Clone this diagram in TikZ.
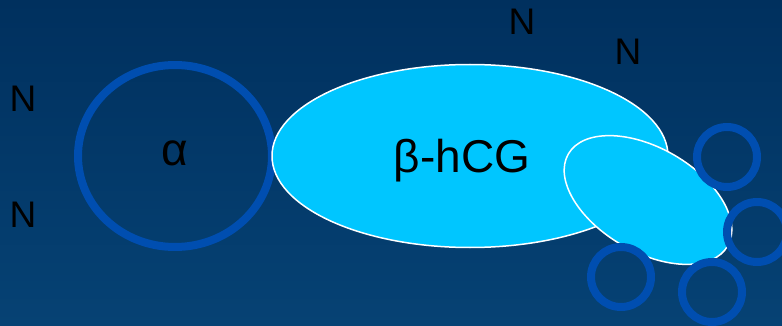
\documentclass[tikz,border=0pt]{standalone}
\usepackage{fontspec}
\setmainfont{Liberation Sans}
\usetikzlibrary{shapes.geometric}
\definecolor{bgtop}{RGB}{0,48,94}
\definecolor{bgbottom}{RGB}{6,66,116}
\definecolor{ringblue}{RGB}{0,78,176}
\definecolor{chaincyan}{RGB}{0,198,255}
\tikzset{ringnode/.style={circle,draw=ringblue,line width=8pt,inner sep=0pt,minimum size=60pt},
  chainnode/.style={ellipse,draw=white,line width=1.5pt,fill=chaincyan,inner sep=0pt},
  sugarlabel/.style={font=\fontsize{37}{40}\selectfont,text=black,inner sep=0pt},
  chainlabel/.style={font=\fontsize{46}{50}\selectfont,text=black,inner sep=0pt}}

\begin{document}
\begin{tikzpicture}[x=1pt,y=-1pt]

  % background
  \fill [top color=bgtop, bottom color=bgbottom] (0,0) rectangle (782,326);
  \useasboundingbox (0,0) rectangle (782,326);

  % subunits
  \node [ellipse, draw=ringblue, line width=8pt, inner sep=0pt, minimum width=194pt, minimum height=182pt] (alpha) at (175,156) {};
  \node [style = chainnode, minimum width=396pt, minimum height=183pt] (beta) at (470,156) {};
  \node [style = chainnode, minimum width=184pt, minimum height=104pt, rotate=-30] (tail) at (648,200) {};

  % labels
  \node [style = chainlabel] (alphatext) at (175,153) {α};
  \node [style = chainlabel] (betatext) at (462,161) {β-hCG};

  % sugars on the tail
  \node [style = ringnode] (ra) at (727,157) {};
  \node [style = ringnode] (rb) at (757,232) {};
  \node [style = ringnode] (rc) at (621,277) {};
  \node [style = ringnode] (rd) at (712,292) {};

  % N labels
  \node [style = sugarlabel] (na) at (522,22) {N};
  \node [style = sugarlabel] (nb) at (628,52) {N};
  \node [style = sugarlabel] (nc) at (23,99) {N};
  \node [style = sugarlabel] (nd) at (23,215) {N};

\end{tikzpicture}
\end{document}
